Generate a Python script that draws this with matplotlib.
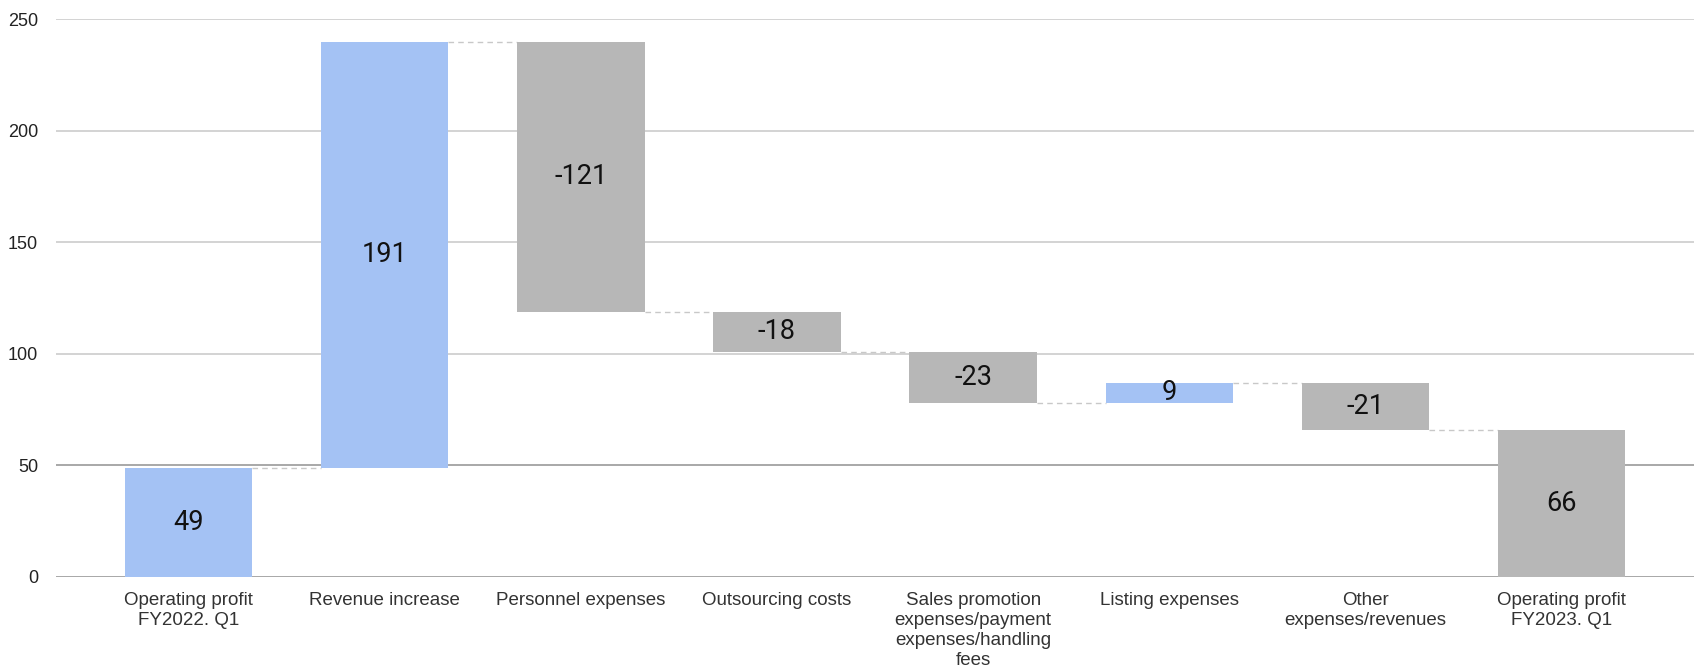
import numpy as np
import matplotlib.pyplot as plt

categories = ["Operating profit\nFY2022. Q1", "Revenue increase", "Personnel expenses",
              "Outsourcing costs", "Sales promotion\nexpenses/payment\nexpenses/handling\nfees",
              "Listing expenses", "Other\nexpenses/revenues", "Operating profit\nFY2023. Q1"]
changes = [49, 191, -121, -18, -23, 9, -21, 66]
is_total = [True, False, False, False, False, False, False, True]
bar_colors = ["#a4c2f4", "#a4c2f4", "#b7b7b7", "#b7b7b7", "#b7b7b7", "#a4c2f4", "#b7b7b7", "#b7b7b7"]


def main():
    fig = plt.figure(figsize=(17, 6.71), dpi=100)
    ax = fig.add_axes([0.033, 0.1404, 0.9635, 0.8306])

    bottoms, tops, levels = [], [], []
    level = 0
    for v, tot in zip(changes, is_total):
        lo = 0 if tot else level
        hi = lo + v
        level = hi
        levels.append(level)
        bottoms.append(min(lo, hi))
        tops.append(max(lo, hi))

    x = np.arange(len(categories))
    w = 0.65
    heights = [t - b for t, b in zip(tops, bottoms)]
    ax.bar(x, heights, bottom=bottoms, width=w, color=bar_colors, zorder=3, edgecolor="none")

    # dashed connectors between bars
    for i in range(len(changes) - 1):
        ax.plot([x[i] + w / 2, x[i + 1] - w / 2], [levels[i], levels[i]], color="#c8c8c8",
                lw=1, ls=(0, (4, 3)), zorder=2)

    for i, v in enumerate(changes):
        ax.text(x[i], (bottoms[i] + tops[i]) / 2, str(v), ha="center", va="center",
                fontsize=19.5, family="Roboto", color="#111111", zorder=4)

    ax.set_ylim(0, 250)
    ax.set_xlim(-0.675, len(categories) - 1 + 0.675)
    ax.set_yticks([0, 50, 100, 150, 200, 250])
    for yv in [0, 50, 100, 150, 200, 250]:
        c = "#9a9a9a" if yv in (0, 50) else "#cccccc"
        ax.axhline(yv, color=c, lw=1.2, zorder=1)
    ax.set_xticks(x)
    ax.set_xticklabels(categories, family="Liberation Sans", fontsize=13.5, color="#333333",
                       linespacing=1.22)
    for lab in ax.get_yticklabels():
        lab.set_family("Liberation Sans")
        lab.set_fontsize(13)
        lab.set_color("#222222")
    ax.tick_params(length=0)
    ax.tick_params(axis="x", pad=11)
    ax.tick_params(axis="y", pad=13)
    for s in ax.spines.values():
        s.set_visible(False)

    fig.savefig("out.png", dpi=100)


main()
